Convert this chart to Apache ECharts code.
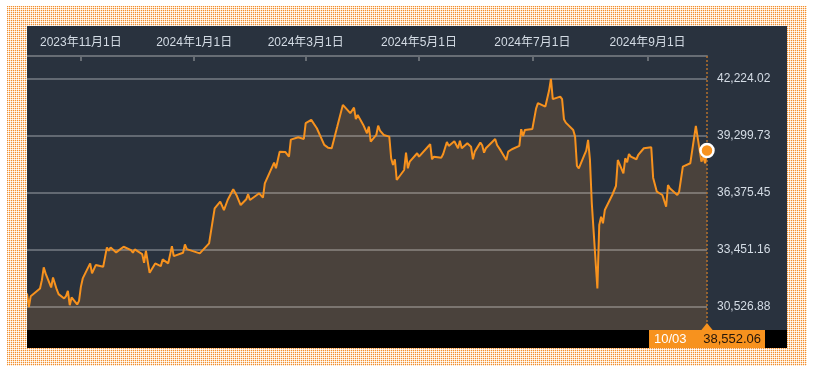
<!DOCTYPE html>
<html><head><meta charset="utf-8">
<script src="https://cdn.jsdelivr.net/npm/echarts@6/dist/echarts.min.js"></script>
<style>
html,body{margin:0;padding:0;background:#fff;width:816px;height:375px;overflow:hidden;}
#frame{position:absolute;left:7px;top:6px;width:800px;height:360px;background-color:#fff;background-repeat:repeat;background-size:2px 2px;image-rendering:pixelated;}
#chart{position:absolute;left:27px;top:26px;width:760px;height:322px;background:#29323e;}
</style></head><body><div id="frame"></div><div id="chart"></div>
<script>
const dates = [
'2023-10-03','2023-10-04','2023-10-05','2023-10-06','2023-10-10','2023-10-11','2023-10-12','2023-10-13','2023-10-16','2023-10-17',
'2023-10-18','2023-10-19','2023-10-20','2023-10-23','2023-10-24','2023-10-25','2023-10-26','2023-10-27','2023-10-30','2023-10-31',
'2023-11-01','2023-11-02','2023-11-06','2023-11-07','2023-11-08','2023-11-09','2023-11-10','2023-11-13','2023-11-14','2023-11-15',
'2023-11-16','2023-11-17','2023-11-20','2023-11-24','2023-11-28','2023-11-29','2023-11-30','2023-12-04','2023-12-05','2023-12-06',
'2023-12-08','2023-12-11','2023-12-12','2023-12-14','2023-12-15','2023-12-18','2023-12-20','2023-12-21','2023-12-26','2023-12-27',
'2023-12-28','2024-01-04','2024-01-09','2024-01-12','2024-01-15','2024-01-17','2024-01-18','2024-01-19','2024-01-22','2024-01-23',
'2024-01-24','2024-01-25','2024-01-26','2024-01-29','2024-01-30','2024-01-31','2024-02-05','2024-02-07','2024-02-08','2024-02-09',
'2024-02-13','2024-02-14','2024-02-16','2024-02-19','2024-02-21','2024-02-22','2024-02-26','2024-02-27','2024-02-29','2024-03-01',
'2024-03-04','2024-03-05','2024-03-07','2024-03-08','2024-03-11','2024-03-13','2024-03-14','2024-03-15','2024-03-18','2024-03-21',
'2024-03-22','2024-03-25','2024-03-26','2024-03-27','2024-03-28','2024-03-29','2024-04-01','2024-04-02','2024-04-03','2024-04-04',
'2024-04-05','2024-04-08','2024-04-09','2024-04-10','2024-04-11','2024-04-12','2024-04-15','2024-04-16','2024-04-17','2024-04-18',
'2024-04-19','2024-04-23','2024-04-24','2024-04-25','2024-04-26','2024-04-30','2024-05-01','2024-05-02','2024-05-07','2024-05-08',
'2024-05-09','2024-05-10','2024-05-13','2024-05-14','2024-05-15','2024-05-16','2024-05-17','2024-05-20','2024-05-21','2024-05-22',
'2024-05-23','2024-05-24','2024-05-27','2024-05-28','2024-05-29','2024-05-30','2024-05-31','2024-06-03','2024-06-04','2024-06-05',
'2024-06-06','2024-06-07','2024-06-11','2024-06-12','2024-06-13','2024-06-14','2024-06-17','2024-06-18','2024-06-20','2024-06-21',
'2024-06-24','2024-06-25','2024-06-26','2024-06-27','2024-06-28','2024-07-01','2024-07-03','2024-07-04','2024-07-05','2024-07-08',
'2024-07-10','2024-07-11','2024-07-12','2024-07-16','2024-07-17','2024-07-18','2024-07-19','2024-07-23','2024-07-24','2024-07-25',
'2024-07-26','2024-07-29','2024-07-30','2024-07-31','2024-08-01','2024-08-02','2024-08-05','2024-08-06','2024-08-07','2024-08-08',
'2024-08-09','2024-08-13','2024-08-15','2024-08-16','2024-08-19','2024-08-20','2024-08-21','2024-08-22','2024-08-23','2024-08-26',
'2024-08-27','2024-08-28','2024-08-30','2024-09-03','2024-09-04','2024-09-06','2024-09-09','2024-09-11','2024-09-12','2024-09-13',
'2024-09-17','2024-09-18','2024-09-20','2024-09-24','2024-09-25','2024-09-27','2024-09-30','2024-10-01','2024-10-02','2024-10-03'
];
const values = [
31230,30526.88,31091,31025,31486,31912,32564,32256,31537,32050,
32050,31435,31194,30973,31091,31363,30630,31025,30665,30850,
31568,32000,32769,32256,32169,32682,32594,32594,32682,33590,
33415,33590,33333,33620,33451,33313,33487,33246,32800,33415,
32287,32769,32871,32630,32974,32769,33656,33143,33313,33744,
33502,33282,33795,35590,35929,35503,35467,36016,36565,36529,
36221,36185,35760,36052,36324,36016,36360,36134,36873,36924,
37930,37642,38494,38479,38237,39109,39230,39263,39145,39951,
40120,40105,39694,39745,38838,38699,38786,38668,39776,40890,
40926,40464,40428,40751,40156,40377,39864,39864,39438,39776,
39007,39350,39828,39571,39520,39350,39263,38155,37812,38104,
37042,37555,38443,37642,37981,38412,38237,38300,38874,38104,
38237,38237,38186,38376,38412,38992,38786,39027,39094,38668,
39058,38668,38925,38889,38750,38104,38494,38956,38822,38443,
38668,38720,39145,38838,38810,38545,38068,38494,38617,38668,
38786,39643,39299,39607,39620,39658,40700,40977,40941,40802,
41623,42224.02,41182,41315,41182,40156,39981,39607,39263,37760,
37642,38325,38545,39094,38068,35847,31486,34734,35159,34821,
35503,36273,36734,38068,37386,38155,37950,38376,38237,38104,
38325,38361,38668,38720,37160,36442,36273,35672,36786,36616,
36273,36442,37724,37898,37812,39812,37981,38237,37898,38552.06
];
const yTicks = [30526.88, 33451.16, 36375.45, 39299.73, 42224.02];
const xTicks = ['2023-11-01','2024-01-01','2024-03-01','2024-05-01','2024-07-01','2024-09-01'];
const xRange = ['2023-10-03','2024-10-03'];

// dotted frame pattern (2x2 tile, orange dot with soft edge)
(function(){
  const c = document.createElement('canvas'); c.width = 2; c.height = 2;
  const g = c.getContext('2d'); g.fillStyle = '#fff'; g.fillRect(0,0,2,2);
  g.fillStyle = '#f39030'; g.fillRect(0,0,1,1);
  g.fillStyle = '#fde2c6'; g.fillRect(1,0,1,1); g.fillRect(0,1,1,1);
  document.getElementById('frame').style.backgroundImage = 'url(' + c.toDataURL() + ')';
})();

function ts(s){const p=s.split('-').map(Number);return new Date(p[0],p[1]-1,p[2]).getTime();}
function fmtNum(v){return v.toLocaleString('en-US',{minimumFractionDigits:2,maximumFractionDigits:2});}
const data = dates.map((d,i)=>[ts(d), values[i]]);
const lastTs = ts(dates[dates.length-1]);
const lastVal = values[values.length-1];
const lastDate = new Date(lastTs);
const lastLabel = String(lastDate.getMonth()+1).padStart(2,'0')+'/'+String(lastDate.getDate()).padStart(2,'0');
const pad = (yTicks[yTicks.length-1]-yTicks[0])*0.1;
const textColor = '#d4dce5';
const FONT = '"Liberation Sans", "Noto Sans CJK JP", sans-serif';

const chart = echarts.init(document.getElementById('chart'), null, {renderer:'canvas'});
chart.setOption({
  backgroundColor: '#29323e',
  animation: false,
  grid: {left: 0, right: 80, top: 30, bottom: 18, containLabel: false, outerBoundsMode: 'none'},
  xAxis: {
    type: 'value', position: 'top', min: ts(xRange[0]), max: ts(xRange[1]), z: 4,
    axisLine: {show: true, lineStyle: {color: '#676d74', width: 2}},
    axisTick: {show: true, inside: true, length: 5, customValues: xTicks.map(ts), lineStyle: {color: '#676d74', width: 2}},
    axisLabel: {customValues: xTicks.map(ts), color: textColor, fontSize: 12, fontFamily: FONT, margin: 7,
      formatter: v => {const d=new Date(v); return d.getFullYear()+'年'+(d.getMonth()+1)+'月'+d.getDate()+'日';}},
    splitLine: {show: false}
  },
  yAxis: {
    type: 'value', position: 'right', min: yTicks[0]-pad, max: yTicks[yTicks.length-1]+pad, z: 3,
    axisLine: {show: false},
    axisTick: {show: false, customValues: yTicks},
    axisLabel: {customValues: yTicks, color: textColor, fontSize: 12, fontFamily: FONT, margin: 10, formatter: v => fmtNum(v)},
    splitLine: {show: true, lineStyle: {color: 'rgba(255,255,255,0.27)', width: 2}}
  },
  series: [
    {type: 'line', data: data, showSymbol: false, silent: true, z: 1,
     lineStyle: {width: 0}, areaStyle: {color: '#4a423c', opacity: 1}},
    {type: 'line', data: data, showSymbol: false, silent: true, z: 5,
     lineStyle: {color: '#f7921e', width: 2},
     markLine: {silent: true, symbol: 'none', label: {show: false},
       lineStyle: {type: [2, 2], color: '#b5712d', width: 1.5},
       data: [{xAxis: lastTs}]}},
    {type: 'scatter', data: [[lastTs, lastVal]], symbolSize: 13, z: 6, silent: true,
     itemStyle: {color: '#f7921e', borderColor: '#ffffff', borderWidth: 2.5, opacity: 1}}
  ]
});

const px = chart.convertToPixel({xAxisIndex: 0}, lastTs);
const by = 322 - 18;
chart.setOption({
  graphic: [
    {type: 'rect', left: 0, top: by, shape: {width: 760, height: 18}, style: {fill: '#000'}, z: 10},
    {type: 'rect', x: px - 58, y: by, shape: {x: 0, y: 0, width: 116, height: 18}, style: {fill: '#f7921e'}, z: 20},
    {type: 'polygon', x: px - 58, y: by, shape: {points: [[52, 0.5], [58, -7], [64, 0.5]]}, style: {fill: '#f7921e'}, z: 20},
    {type: 'text', x: px - 53, y: by + 9.5, style: {text: lastLabel, fill: '#ffffff', font: '13px ' + FONT, verticalAlign: 'middle', align: 'left'}, z: 21},
    {type: 'text', x: px + 54, y: by + 9.5, style: {text: fmtNum(lastVal), fill: '#24160a', font: '13px ' + FONT, verticalAlign: 'middle', align: 'right'}, z: 21}
  ]
});
</script></body></html>
